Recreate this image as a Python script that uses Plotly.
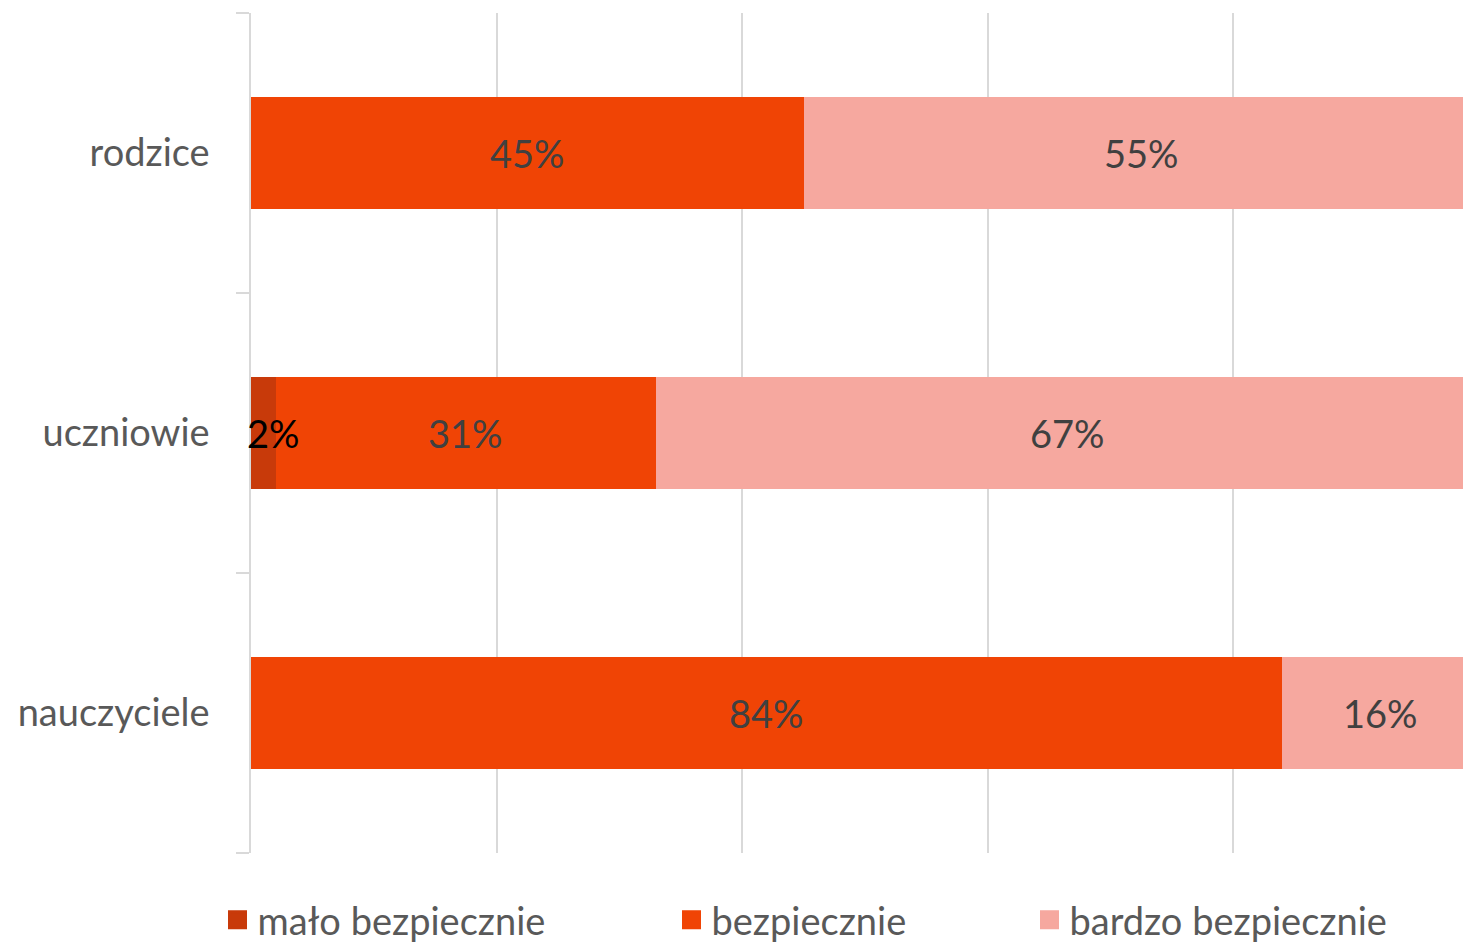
import numpy as np
import plotly.graph_objects as go

categories = ["nauczyciele", "uczniowie", "rodzice"]
series_names = ["mało bezpiecznie", "bezpiecznie", "bardzo bezpiecznie"]
malo = [0, 2, 0]
bezp = [84, 31, 45]
bardzo = [16, 67, 55]
colors = ["#C83A0A", "#F04405", "#F6A89F"]

FONT = "Lato"
series = [malo, bezp, bardzo]
fig = go.Figure()
for name, vals, col in zip(series_names, series, colors):
    fig.add_trace(go.Bar(
        y=categories, x=vals, orientation="h", name=name,
        marker=dict(color=col, line=dict(width=0)),
        showlegend=False, hoverinfo="skip", width=0.4,
    ))

# data labels, drawn on top of all bars, positioned from the stacked data
arr = np.array(series, dtype=float)
starts = np.vstack([np.zeros(arr.shape[1]), np.cumsum(arr, axis=0)[:-1]])
mids = starts + arr / 2
for i, vals in enumerate(series):
    for j, v in enumerate(vals):
        if v <= 0:
            continue
        if i == 0:
            fig.add_annotation(x=starts[i][j], y=categories[j], xref="x", yref="y",
                               text=f"{v}%", showarrow=False, xanchor="left",
                               yanchor="middle", xshift=-6, yshift=0,
                               font=dict(family=FONT, size=38, color="#000000"))
        else:
            fig.add_annotation(x=mids[i][j], y=categories[j], xref="x", yref="y",
                               text=f"{v}%", showarrow=False, xanchor="center",
                               yanchor="middle", yshift=0,
                               font=dict(family=FONT, size=38, color="#404040"))

for i, (name, col) in enumerate(zip(series_names, colors)):
    lg = "legend" if i == 0 else f"legend{i+1}"
    fig.add_trace(go.Scatter(
        x=[None], y=[None], mode="markers", name=name,
        marker=dict(symbol="square", size=16, color=col, line=dict(color=col, width=3)),
        legend=lg, showlegend=True, hoverinfo="skip",
    ))

leg_common = dict(orientation="h", yanchor="middle", yref="container",
                  y=(944 - 920) / 944, xanchor="left", xref="paper",
                  font=dict(family=FONT, size=38, color="#595959"),
                  bgcolor="rgba(0,0,0,0)", itemsizing="trace", tracegroupgap=0)
sym_centers = [237, 691, 1049]
lx = [(c - 19.5 - 251) / 1212 for c in sym_centers]
fig.update_layout(
    width=1463, height=944,
    margin=dict(l=251, r=0, t=13, b=91),
    paper_bgcolor="white", plot_bgcolor="white",
    barmode="stack",
    xaxis=dict(range=[0, 98.7], showticklabels=False, showgrid=True,
               gridcolor="#d9d9d9", gridwidth=1.5, dtick=20, zeroline=False,
               showline=False, fixedrange=True),
    yaxis=dict(showline=True, linecolor="#d9d9d9", linewidth=1.5,
               ticks="outside", ticklen=13, tickcolor="#d9d9d9", tickwidth=1.5,
               tickson="boundaries", showgrid=False,
               tickfont=dict(family=FONT, size=38, color="#595959"),
               ticklabelstandoff=32, fixedrange=True),
    legend=dict(x=lx[0], **leg_common),
    legend2=dict(x=lx[1], **leg_common),
    legend3=dict(x=lx[2], **leg_common),
    showlegend=True,
)
fig.write_html("out.html", config={"displayModeBar": False},
               post_script="document.body.style.margin='0';document.body.style.overflow='hidden';")
